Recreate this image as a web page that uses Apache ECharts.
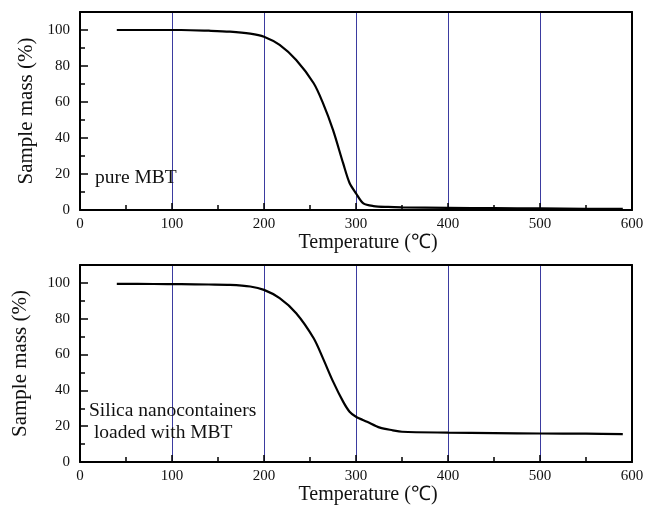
<!DOCTYPE html>
<html>
<head>
<meta charset="utf-8">
<script src="https://cdn.jsdelivr.net/npm/echarts@6/dist/echarts.min.js"></script>
<style>
html,body{margin:0;padding:0;background:#fff;}
#c{width:647px;height:508px;}
</style>
</head>
<body>
<div id="c"></div>
<script>
// Data
const pureMBT = [
  [40,100],[80,100],[110,100],[140,99.6],[163,99.1],[185,98],[200,96.3],[217,91.7],
  [235,83.3],[254,70.4],[264,59.5],[275,44.5],[286,26],[293,15],[300,9.3],[308,3.7],
  [319,2.2],[335,1.7],[350,1.5],[400,1.2],[450,1.0],[500,0.9],[550,0.7],[590,0.6]
];
const silicaMBT = [
  [40,99.5],[80,99.4],[110,99.3],[140,99.1],[163,98.9],[185,98],[200,96.1],[217,91.5],
  [235,83.1],[254,69.1],[264,58],[275,45],[286,33.7],[293,28.1],[300,25.3],[312,22.5],
  [326,19.2],[340,17.7],[350,16.9],[400,16.4],[450,16.1],[500,15.9],[550,15.8],[590,15.6]
];
const xTicks = {min:0, max:600, interval:100};
const yTicks = {min:0, max:110, interval:20};
const xName = 'Temperature (\u2103)';
const yName = 'Sample mass (%)';
const label1 = ['pure MBT'];
const label2 = ['Silica nanocontainers', ' loaded with MBT'];

const FONT = 'Liberation Serif';
const grids = [
  {left:80, top:12, width:552, height:198},
  {left:80, top:265, width:552, height:197}
];

function mkX(gi){
  return [{
    gridIndex:gi, type:'value', min:xTicks.min, max:xTicks.max, interval:xTicks.interval,
    name:xName, nameLocation:'middle', nameGap:22,
    nameTextStyle:{fontFamily:FONT, fontSize:20, color:'#111', padding:[0,0,0,24]},
    axisLine:{show:true, onZero:false, lineStyle:{color:'#000', width:2}},
    axisTick:{show:true, inside:true, length:7, lineStyle:{color:'#000', width:1.5}},
    minorTick:{show:true, splitNumber:2, length:5, lineStyle:{color:'#000', width:1.5}},
    axisLabel:{fontFamily:FONT, fontSize:15, color:'#111', margin:7},
    splitLine:{show:true, lineStyle:{color:'#3b3ba0', width:1}},
    z:1
  },{
    gridIndex:gi, type:'value', position:'top', min:xTicks.min, max:xTicks.max,
    axisLine:{show:true, onZero:false, lineStyle:{color:'#000', width:2}},
    axisTick:{show:false}, axisLabel:{show:false}, splitLine:{show:false}, z:5
  }];
}
function mkY(gi, gap){
  return [{
    gridIndex:gi, type:'value', min:yTicks.min, max:yTicks.max, interval:yTicks.interval,
    name:yName, nameLocation:'middle', nameGap:gap, nameRotate:90,
    nameTextStyle:{fontFamily:FONT, fontSize:21, color:'#111'},
    axisLine:{show:true, onZero:false, lineStyle:{color:'#000', width:2}},
    axisTick:{show:true, inside:true, length:8, lineStyle:{color:'#000', width:1.5}},
    minorTick:{show:true, splitNumber:2, length:5, lineStyle:{color:'#000', width:1.5}},
    axisLabel:{fontFamily:FONT, fontSize:15, color:'#111', margin:10, showMaxLabel:false,
      formatter:v => (v % 20 === 0 ? String(v) : '')},
    splitLine:{show:false}, z:5
  },{
    gridIndex:gi, type:'value', position:'right', min:yTicks.min, max:yTicks.max,
    axisLine:{show:true, onZero:false, lineStyle:{color:'#000', width:2}},
    axisTick:{show:false}, axisLabel:{show:false}, splitLine:{show:false}, z:5
  }];
}

const chart = echarts.init(document.getElementById('c'), null, {renderer:'canvas'});
const line = (data, gi) => ({
  type:'line', xAxisIndex:gi*2, yAxisIndex:gi*2, data:data, smooth:0.3,
  showSymbol:false, symbol:'none', lineStyle:{color:'#000', width:2.2}, z:3, silent:true
});
chart.setOption({
  animation:false,
  backgroundColor:'#fff',
  grid:grids,
  xAxis:[...mkX(0), ...mkX(1)],
  yAxis:[...mkY(0,42), ...mkY(1,49)],
  series:[line(pureMBT,0), line(silicaMBT,1)],
  graphic:[
    {type:'text', left:95, top:168, style:{text:label1.join('\n'), font:'19.5px "Liberation Serif"', fill:'#111'}, z:10},
    {type:'text', left:89, top:400, style:{text:label2.join('\n'), font:'19.5px "Liberation Serif"', fill:'#111', lineHeight:22}, z:10}
  ]
});
</script>
</body>
</html>
